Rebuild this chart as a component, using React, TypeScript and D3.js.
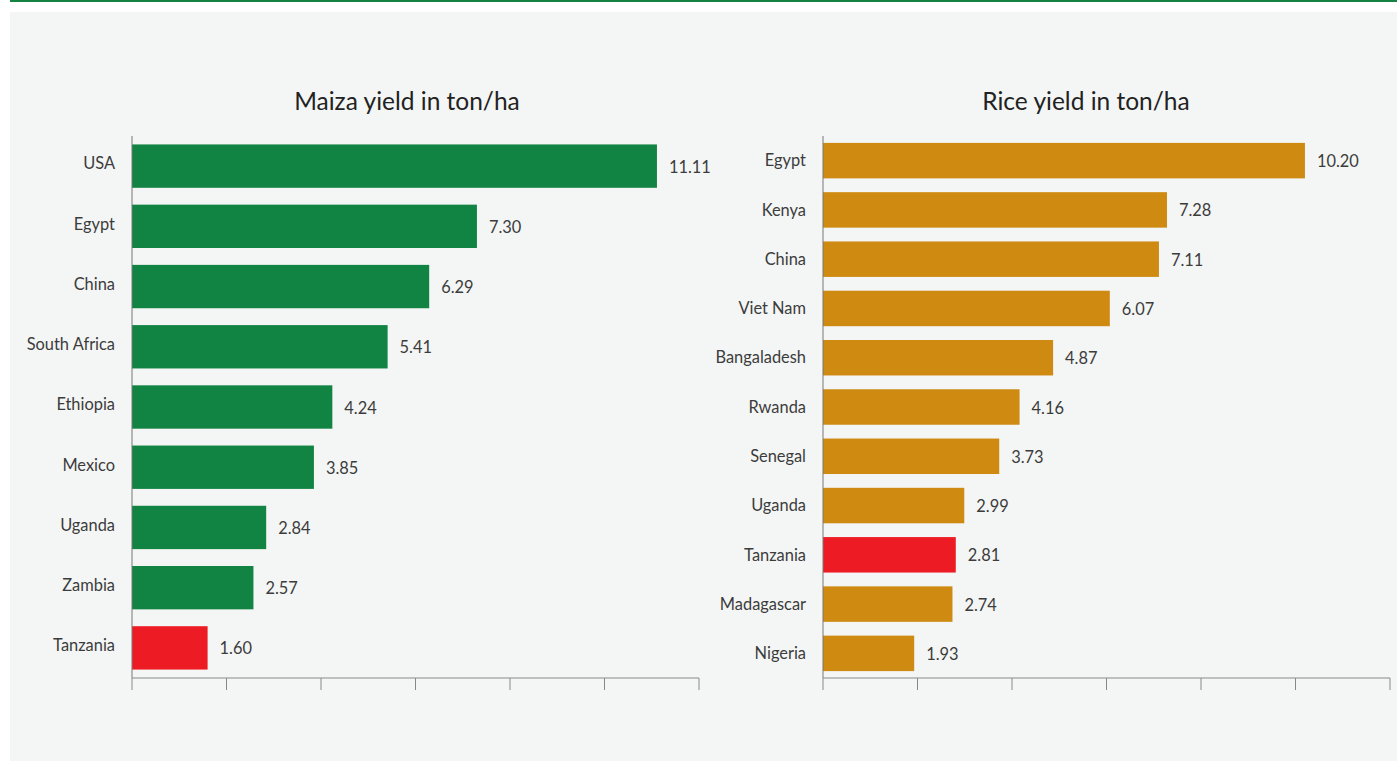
import React from "react";
import * as d3 from "d3";

const maizeCountries = ["USA", "Egypt", "China", "South Africa", "Ethiopia", "Mexico", "Uganda", "Zambia", "Tanzania"];
const maizeValues = [11.11, 7.30, 6.29, 5.41, 4.24, 3.85, 2.84, 2.57, 1.60];
const riceCountries = ["Egypt", "Kenya", "China", "Viet Nam", "Bangaladesh", "Rwanda", "Senegal", "Uganda", "Tanzania", "Madagascar", "Nigeria"];
const riceValues = [10.20, 7.28, 7.11, 6.07, 4.87, 4.16, 3.73, 2.99, 2.81, 2.74, 1.93];
const xTicks = [0, 2, 4, 6, 8, 10, 12];
const highlight = "Tanzania";

const FONT = "Lato, 'Open Sans', sans-serif";

type PanelProps = {
  title: string;
  titleX: number;
  x0: number;
  countries: string[];
  values: number[];
  color: string;
  labelDy: string;
};

function Panel({ title, titleX, x0, countries, values, color, labelDy }: PanelProps) {
  const top = 136;
  const bottom = 678;
  const x = d3.scaleLinear().domain([0, 12]).range([x0, x0 + 567]);
  const y = d3.scaleBand<string>().domain(countries).range([top, bottom]).paddingInner(0.28).paddingOuter(0.14);
  return (
    <g>
      <text x={titleX} y={110} textAnchor="middle" fontFamily={FONT} fontSize={24.5} fontWeight={400} fill="#222">{title}</text>
      {countries.map((c, i) => {
        const yy = y(c)!;
        const bw = y.bandwidth();
        return (
          <g key={c}>
            <rect x={x(0)} y={yy} width={x(values[i]) - x(0)} height={bw} fill={c === highlight ? "#ed1c24" : color} />
            <text x={x0 - 17} y={yy + bw / 2} dy={labelDy} textAnchor="end" fontFamily={FONT} fontSize={16.4} fontWeight={400} fill="#3c3c3c">{c}</text>
            <text x={x(values[i]) + 12} y={yy + bw / 2} dy="0.4em" textAnchor="start" fontFamily={FONT} fontSize={16.4} fontWeight={400} fill="#3c3c3c">{values[i].toFixed(2)}</text>
          </g>
        );
      })}
      <line x1={x0} x2={x0} y1={top} y2={bottom} stroke="#777" strokeWidth={1} />
      <line x1={x0} x2={x(12)} y1={bottom} y2={bottom} stroke="#888" strokeWidth={1} />
      {xTicks.map((t) => (
        <line key={t} x1={x(t)} x2={x(t)} y1={bottom} y2={bottom + 12} stroke="#888" strokeWidth={1} />
      ))}
    </g>
  );
}

export default function App() {
  return (
    <div style={{ position: "fixed", left: 0, top: 0, width: 1397, height: 761, background: "#fff" }}>
      <svg width={1397} height={761} style={{ display: "block" }}>
        <rect x={0} y={0} width={1397} height={761} fill="#ffffff" />
        <rect x={10} y={12} width={1387} height={749} fill="#f4f6f5" />
        <rect x={10} y={0} width={1387} height={2} fill="#148240" />
        <Panel title="Maiza yield in ton/ha" titleX={407} x0={132} countries={maizeCountries} values={maizeValues} color="#118342" labelDy="0.2em" />
        <Panel title="Rice yield in ton/ha" titleX={1086} x0={823} countries={riceCountries} values={riceValues} color="#cf8a12" labelDy="0.35em" />
      </svg>
    </div>
  );
}
